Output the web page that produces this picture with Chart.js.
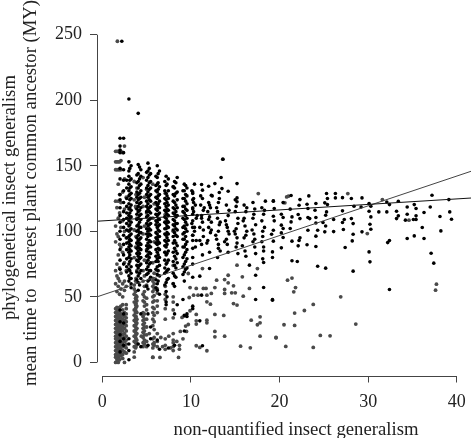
<!DOCTYPE html>
<html>
<head>
<meta charset="utf-8">
<style>
  html, body { margin: 0; padding: 0; background: #fff; }
  canvas { display: block; }
</style>
<script src="https://cdn.jsdelivr.net/npm/chart.js@4"></script>
</head>
<body>
<canvas id="grafico" width="471" height="438"></canvas>
<script>
const xTicks = [0, 10, 20, 30, 40];
const yTicks = [0, 50, 100, 150, 200, 250];
const xTitle = 'non-quantified insect generalism';
const yTitleLines = ['phylogenetical insect generalism', 'mean time to  nearest plant common ancestor (MY)'];

// the two fitted lines, read at the edges of the plot
const lineX = [-0.6, 41.6];
const blackLineY = [107.7, 125.4];
const grayLineY = [50, 145.8];

// dense part of the cloud: points sit in near vertical strips
const blackStripX = [2.0, 2.4, 3.0, 3.25, 4.05, 4.35, 5.15, 5.45, 6.2, 6.45, 7.2, 7.45, 8.15, 8.45, 9.25, 9.55,
  2.75, 3.1, 3.9, 4.2, 5.0, 5.3, 6.05, 6.3, 7.05, 7.3, 8.0, 8.3, 9.1, 9.4, 10.2];
const blackStripY = [
  [171, 165, 162, 160, 148, 140, 128, 124, 118, 112, 107, 100, 94, 86, 78, 71, 40, 31, 21, 16, 8],
  [171, 160, 147, 139, 131, 122, 115, 109, 103, 97, 90, 82, 75, 37, 30, 18, 13],
  [201, 153, 146, 142, 136, 131, 127, 121, 117, 112, 108, 104, 100, 96, 92, 88, 84, 80, 75, 71, 66, 62, 18, 14, 9, 2],
  [150, 140, 134, 129, 125, 120, 116, 111, 107, 102, 98, 93, 89, 85, 79, 73, 68, 64, 60, 57],
  [190, 151, 144, 138, 133, 128, 124, 119, 115, 110, 105, 101, 97, 93, 89, 85, 81, 77, 72, 66, 61, 55, 14],
  [147, 142, 136, 131, 126, 122, 118, 113, 109, 103, 99, 95, 90, 86, 80, 75, 70, 64, 37, 12],
  [152, 146, 141, 135, 130, 126, 121, 117, 112, 108, 104, 100, 96, 91, 87, 82, 78, 73, 68, 62, 56, 37, 13],
  [144, 138, 133, 128, 123, 119, 114, 110, 106, 101, 97, 92, 88, 83, 76, 70, 65, 27, 18],
  [150, 141, 136, 130, 125, 120, 116, 112, 107, 103, 98, 94, 90, 84, 79, 73, 67, 60, 55, 17],
  [146, 134, 128, 123, 118, 114, 109, 105, 100, 96, 91, 86, 80, 74, 66, 52, 10],
  [142, 135, 129, 124, 119, 115, 110, 106, 102, 97, 92, 88, 82, 75, 69, 61, 54, 46, 44],
  [140, 131, 125, 120, 116, 112, 107, 103, 98, 93, 85, 78, 71, 64, 11],
  [138, 133, 127, 122, 117, 113, 108, 104, 99, 93, 87, 81, 74, 66, 58, 37, 13],
  [141, 130, 124, 118, 112, 106, 101, 96, 89, 83, 76, 44],
  [136, 131, 125, 119, 114, 109, 104, 99, 94, 88, 82, 75, 69, 62, 36, 24],
  [133, 127, 121, 116, 110, 105, 100, 92, 86, 79, 72, 37, 35],
  [139, 133, 125, 119, 114, 110, 106, 101, 95, 91, 86, 79, 73, 69],
  [148, 139, 133, 128, 124, 118, 114, 110, 105, 101, 97, 94, 90, 86, 82, 77, 70, 64],
  [143, 137, 130, 126, 122, 117, 113, 109, 104, 100, 95, 91, 87, 83, 78, 74, 69, 63],
  [149, 140, 135, 129, 125, 121, 116, 112, 107, 103, 99, 94, 91, 87, 83, 79, 74, 68, 59],
  [145, 139, 133, 128, 123, 119, 115, 111, 106, 102, 98, 94, 89, 85, 81, 76, 71, 67, 58],
  [148, 143, 137, 132, 127, 124, 118, 115, 109, 105, 102, 98, 93, 89, 84, 80, 75, 70, 63],
  [142, 135, 131, 126, 122, 117, 113, 108, 105, 99, 95, 91, 86, 81, 77, 71, 63, 57],
  [144, 137, 132, 127, 121, 118, 113, 109, 104, 101, 96, 92, 87, 82, 77, 70, 62],
  [138, 131, 125, 121, 116, 111, 107, 102, 98, 93, 89, 84, 78, 72, 68, 59],
  [136, 127, 122, 117, 113, 108, 104, 99, 95, 90, 83, 76, 70, 63, 50],
  [134, 128, 123, 118, 114, 109, 105, 101, 96, 91, 84, 77, 68, 60],
  [137, 129, 120, 115, 111, 106, 102, 97, 91, 85, 79, 72, 65],
  [131, 125, 119, 115, 110, 103, 98, 94, 88, 80, 73, 67, 48],
  [135, 128, 123, 117, 112, 107, 102, 96, 90, 84, 77, 71],
  [130, 124, 118, 113, 108, 103, 97, 93, 87, 80, 75, 65, 41]
];

const grayStripX = [1.5, 1.8, 2.1, 2.5, 3.6, 3.9, 3.8, 4.6, 5.0, 5.7, 6.2, 7.1, 8.0,
  1.65, 1.95, 2.3, 2.7, 3.75, 4.75, 5.85];
const grayStripY = [
  [161, 153, 147, 123, 104, 92, 70, 60, 41, 38, 35, 32, 29, 26, 23, 20, 18, 15, 12, 9, 6, 4, 0],
  [161, 153, 147, 136, 123, 110, 96, 82, 64, 58, 40, 36, 33, 30, 27, 24, 21, 18, 15, 13, 10, 7, 4, 0],
  [161, 154, 147, 122, 103, 88, 68, 56, 43, 37, 34, 31, 28, 25, 22, 19, 16, 13, 10, 7, 5],
  [165, 140, 117, 100, 76, 62, 55, 38, 35, 32, 29, 26, 22, 19, 16, 12, 8, 0],
  [138, 124, 101, 80, 59, 56, 52, 46, 40, 36, 32, 28, 24, 20, 16, 12, 8, 4],
  [133, 110, 91, 70, 50, 47, 43, 38, 33, 30, 26, 22, 17, 14],
  [128, 118, 96, 64, 51, 48, 45, 42, 39, 35, 32, 29, 25, 21, 18, 15, 12],
  [141, 119, 98, 70, 62, 52, 47, 38, 35, 32, 29, 26, 23, 19, 15, 12],
  [132, 114, 86, 59, 49, 44, 40, 33, 27, 21, 16, 12],
  [136, 110, 76, 64, 62, 58, 54, 50, 46, 42, 38, 33, 28, 18, 14, 11, 4],
  [120, 93, 70, 56, 53, 47, 43, 38, 22, 16, 12],
  [129, 113, 84, 58, 52, 48, 41, 33, 18, 13, 10],
  [134, 100, 74, 60, 50, 46, 40, 34, 22, 17, 15, 12, 9],
  [161, 153, 147, 118, 98, 75, 66, 54, 42, 39, 37, 34, 31, 28, 25, 22, 19, 17, 14, 11, 8, 5, 2],
  [153, 147, 128, 114, 90, 72, 62, 52, 42, 38, 35, 32, 29, 26, 23, 20, 17, 14, 11, 8, 5, 2],
  [160, 130, 108, 84, 60, 50, 44, 40, 36, 33, 30, 27, 24, 21, 18, 15, 12, 9, 6, 3],
  [126, 95, 70, 58, 44, 41, 37, 34, 31, 28, 24, 20, 17, 14, 11, 7],
  [119, 88, 62, 54, 49, 44, 41, 38, 34, 31, 27, 23, 19, 15, 11],
  [126, 104, 78, 66, 58, 54, 50, 46, 43, 37, 33, 30, 27, 24, 21, 17, 14],
  [121, 92, 68, 60, 56, 51, 47, 41, 36, 31, 25, 19, 15, 13]
];

// sparse points, read one at a time
const blackSparseX = [2.2, 13.6, 10.4, 11.2, 12, 12.7, 13.4, 13.5, 13.2, 14.2, 12.3, 11.3, 10.2, 15.2, 15.2, 15.2, 18.4, 19.3,
  10.3, 10.5, 10.3, 10.6, 10.4, 10.2, 10.5, 11.3, 11.1, 11.4, 11.2, 11.3, 11, 11.4, 11.2, 11.3,
  12, 12.2, 11.9, 12.1, 12.3, 12, 12.2, 11.9, 12.1, 13.1, 12.9, 13, 13.2, 13.1, 12.9, 13.1, 13.3, 13,
  14, 14.2, 13.9, 14.1, 14.3, 14, 14.1, 14.2, 15.1, 15, 15.3, 15.1, 15, 15.2, 15.1, 15.3,
  16, 16.2, 15.9, 16.1, 16.3, 16, 16.1, 16.2, 17, 17.2, 17, 17.3, 17.1, 17, 17.2, 17.3,
  18, 18.2, 18, 18.3, 18.1, 18, 18.2, 18.1,
  10.1, 10.3, 10.2, 10.7, 10.1, 10.4, 10.6, 11.1, 11.5, 11.2, 11.4, 11, 12.4, 12.1, 12, 12.3, 11.8, 13.2, 13, 13.3, 12.8, 13.1,
  14.3, 14, 14.2, 13.8, 15, 15.3, 14.9, 15.2, 16.3, 16, 16.2, 15.8, 17.1, 16.9, 17.2, 18.3, 18.1, 18.2,
  19.3, 20.4, 21.3, 23.3, 22.3, 22.2, 23.1, 24.1, 25.3, 25.4, 26.3, 26.3, 27.1, 28.1, 29.3, 25.1, 25.4, 19.4, 21.2, 23.2, 24, 25.3, 25.2,
  27.1, 28.4, 29.2, 30.1, 30.3, 30.1, 31.2, 32.1, 32.1, 32.4, 33.4, 35.2, 35.4, 34.4, 33.2, 33.4, 33.2, 34.4, 34.2, 35.1, 35.4, 35.4, 36.3, 37, 37.2, 39.1, 39.2, 38.1, 39.4,
  38.2, 36.1, 36.3, 35.2, 34.4, 32.4, 32.2, 37.1, 37.4, 32.4, 30.1, 30.2, 28.3, 25.2, 24.3, 21.4, 22, 19.2, 19.2, 20.2, 19.2,
  20.2, 20.4, 19.3, 19.4, 21.4, 21.3, 22.1, 22.3, 23.2, 23.4, 24.1, 24.1, 24.9, 25.2, 26.1, 27.1, 27.3, 28.1, 28.3, 30.3, 30.2, 30.3, 29.3, 28.3, 28.2, 27.4, 27.2, 26.1, 25.1, 24.3, 24.1, 23.2, 22.3, 22.2, 21.4, 22.1, 23.1, 24.1, 20.4, 20.2, 21.2, 20.4, 20.2, 19.3, 19.3, 19.1,
  18.2, 17.3, 18.2, 16.6, 12.1, 11, 11.2, 17.3, 19.2, 10.2, 9.3, 11, 11.3];
const blackSparseY = [245, 155, 136, 135.7, 134.4, 136.4, 141, 132.6, 129.6, 130.6, 127.5, 131.4, 128.8, 136.4, 125.5, 122.5, 123, 123,
  125, 120, 115, 110, 103, 97, 88, 125, 120, 116, 112, 107, 103, 96, 90, 82,
  122, 118, 115, 111, 107, 103, 99, 93, 84, 122, 118, 110, 105, 100, 94, 90, 85, 80,
  120, 112, 108, 103, 98, 94, 90, 84, 119, 115, 106, 102, 98, 95, 88, 83,
  120, 115, 108, 104, 100, 95, 85, 81, 122, 117, 110, 105, 98, 92, 88, 83,
  118, 113, 108, 103, 96, 92, 85, 79,
  131, 122, 117, 112, 106, 100, 93, 127, 118, 110, 101, 93, 127, 120, 109, 101, 91, 125, 115, 107, 97, 87,
  116, 105, 100, 92, 124, 110, 100, 91, 118, 110, 97, 89, 113, 101, 94, 116, 100, 88,
  123.2, 121.9, 127.3, 127, 124.2, 119.9, 120.7, 121.2, 128.8, 125, 128.8, 125.5, 125.7, 125, 125.5, 121.7, 120.4, 117.4, 116.9, 117.4, 116.1, 114.8, 112.3,
  115.6, 119.1, 118.6, 121.2, 119.1, 115.3, 114.8, 114.8, 122.4, 120.4, 122.9, 120.4, 117.4, 118.6, 115.3, 111.8, 109.7, 113, 108.5, 109, 109, 111.8, 114.3, 118.6, 127.5, 124.2, 114.8, 111.3, 109.2,
  100.3, 102.9, 94.5, 96.5, 94.5, 93, 91.4, 83.3, 75.7, 55.6, 84.3, 76.7, 69.6, 71.9, 73.4, 77.5, 77, 84.3, 80, 87.4, 47.5,
  113, 110.5, 111.5, 108, 111, 107.2, 112.8, 109.7, 110.5, 109.7, 110.5, 106.4, 106.7, 104.1, 109, 106.7, 109, 109.7, 105.9, 111, 105.4, 101.6, 99.6, 97.8, 92.7, 87.6, 101.4, 99.8, 99.6, 100.8, 96.3, 100.8, 95, 93, 92.5, 88.9, 89.7, 88.4, 95.3, 98.8, 102.1, 102.1, 104.7, 100.8, 92.5, 97.8,
  57.1, 66.5, 76.2, 74.2, 71.6, 65.8, 51.3, 48, 48, 42.9, 35.5, 31.7, 12.7];

const graySparseX = [1.7, 13.6, 17.6, 21, 20.6, 20.8, 27.7, 31.6, 34.6, 29.9, 37.7, 37.6, 21.4, 20.9, 21.8, 21.6, 26.9, 23.8, 22.8, 21.7, 20.5, 21.7, 28.6, 24.6, 25.7, 19.6, 20.7, 23.8,
  9.9, 10.6, 11.4, 11.7, 12.7, 13.8, 14.8, 16.6, 12.9, 13.8, 14.2, 14.2, 15.8, 17.5, 15.2, 11.3, 9.7, 10.8, 10.3, 9.8, 11.8, 12.3, 11.8, 12.2, 13.8, 14.6, 15, 14.8, 15.2, 15.9,
  9.9, 10.6, 12.7, 13.7, 9, 11.8, 11.8, 10.6, 10.6, 9.7, 9.4, 8.8, 9.5, 12.7, 12.7, 13.8, 16.8, 17.8, 17.8, 17.5, 17.8, 19.6, 15.6, 16.7, 10.6, 11, 11.8, 8.7, 8.6, 5.7, 6.5,
  6.6, 7.5, 8.4, 8.7, 9.1, 5.3, 4.4, 6.8, 7.7];
const graySparseY = [245, 155, 128.8, 126.8, 121.7, 126.2, 128.8, 124.2, 108.5, 98.3, 59.7, 55.1, 64.3, 62.7, 57.1, 53.8, 50, 44.2, 39.6, 37.6, 28.7, 28.2, 29.2, 20.6, 20.3, 18.8, 12.2, 11.4,
  57.1, 56.4, 56.4, 56.4, 57.1, 55.6, 58.4, 56.4, 62.7, 63.2, 66.5, 60.7, 65.3, 71.6, 74.2, 71.6, 67.8, 51.3, 51.3, 49.5, 51.3, 52.6, 46.2, 44.4, 52.6, 53.1, 53.1, 44.9, 43.7, 50.5,
  39.4, 36.6, 36.6, 35.8, 34.3, 32.2, 30.2, 31.7, 29.2, 28.9, 27.7, 23.6, 23.6, 23.6, 19.5, 20, 32.2, 34.8, 30.2, 28.7, 20, 19, 12.4, 11.1, 12.7, 11.4, 8.9, 10.1, 3.8, 3.8, 3.8,
  19, 20, 16, 13, 18, 22, 20, 12, 11];

function stripsToPoints(xs, ys) {
  const puntos = [];
  xs.forEach((x, i) => ys[i].forEach(y => puntos.push({ x: x, y: y })));
  return puntos;
}
function pairsToPoints(xs, ys) {
  return xs.map((x, i) => ({ x: x, y: ys[i] }));
}

const blackPoints = stripsToPoints(blackStripX, blackStripY).concat(pairsToPoints(blackSparseX, blackSparseY));
const grayPoints = stripsToPoints(grayStripX, grayStripY).concat(pairsToPoints(graySparseX, graySparseY));

const SERIF = '"Liberation Serif", serif';

// R style axes: the axis line only runs between first and last tick.
// The titles are off center and the y lines start at different heights, so they go here
const axesAndTitles = {
  id: 'axesAndTitles',
  afterDraw(chart) {
    const c = chart.ctx, xs = chart.scales.x, ys = chart.scales.y, a = chart.chartArea;
    c.save();
    c.strokeStyle = '#444';
    c.lineWidth = 1;
    c.beginPath();
    c.moveTo(Math.round(a.left) + 0.5, ys.getPixelForValue(0));
    c.lineTo(Math.round(a.left) + 0.5, ys.getPixelForValue(250));
    c.moveTo(xs.getPixelForValue(0), Math.round(a.bottom) + 0.5);
    c.lineTo(xs.getPixelForValue(40), Math.round(a.bottom) + 0.5);
    c.stroke();

    c.fillStyle = '#222';
    c.font = '18.7px ' + SERIF;
    c.textBaseline = 'alphabetic';
    c.textAlign = 'center';
    c.fillText(xTitle, 296, 435);
    c.textAlign = 'left';
    c.translate(15, 320);
    c.rotate(-Math.PI / 2);
    c.fillText(yTitleLines[0], 0, 0);
    c.fillText(yTitleLines[1], -66, 21);
    c.restore();
  }
};

const ctx = document.getElementById('grafico').getContext('2d');
new Chart(ctx, {
  type: 'scatter',
  data: {
    datasets: [
      { data: pairsToPoints(lineX, blackLineY), type: 'line', borderColor: '#111', borderWidth: 1, pointRadius: 0, order: 1 },
      { data: pairsToPoints(lineX, grayLineY), type: 'line', borderColor: '#444', borderWidth: 1, pointRadius: 0, order: 2 },
      { data: blackPoints, backgroundColor: '#000', borderWidth: 0, pointRadius: 1.8, order: 3 },
      { data: grayPoints, backgroundColor: '#4a4a4a', borderWidth: 0, pointRadius: 1.9, order: 4 }
    ]
  },
  plugins: [axesAndTitles],
  options: {
    responsive: false,
    animation: false,
    layout: { autoPadding: false, padding: { top: 34.7, right: 0, left: 0, bottom: 0 } },
    plugins: { legend: { display: false }, tooltip: { enabled: false } },
    scales: {
      x: {
        type: 'linear',
        min: -0.6,
        max: 41.6,
        afterBuildTicks: s => { s.ticks = xTicks.map(v => ({ value: v })); },
        afterFit: s => { s.height = 62.5; s.paddingLeft = 0; s.paddingRight = 0; },
        border: { display: false },
        grid: { drawOnChartArea: false, tickLength: 7, color: '#444' },
        ticks: { color: '#222', font: { family: SERIF, size: 18 }, padding: 9, maxRotation: 0, autoSkip: false }
      },
      y: {
        type: 'linear',
        min: -10,
        max: 250,
        afterBuildTicks: s => { s.ticks = yTicks.map(v => ({ value: v })); },
        afterFit: s => { s.width = 97; s.paddingTop = 0; s.paddingBottom = 0; },
        border: { display: false },
        grid: { drawOnChartArea: false, tickLength: 7, color: '#444' },
        ticks: { color: '#222', font: { family: SERIF, size: 18 }, padding: 8, autoSkip: false }
      }
    }
  }
});
</script>
</body>
</html>
